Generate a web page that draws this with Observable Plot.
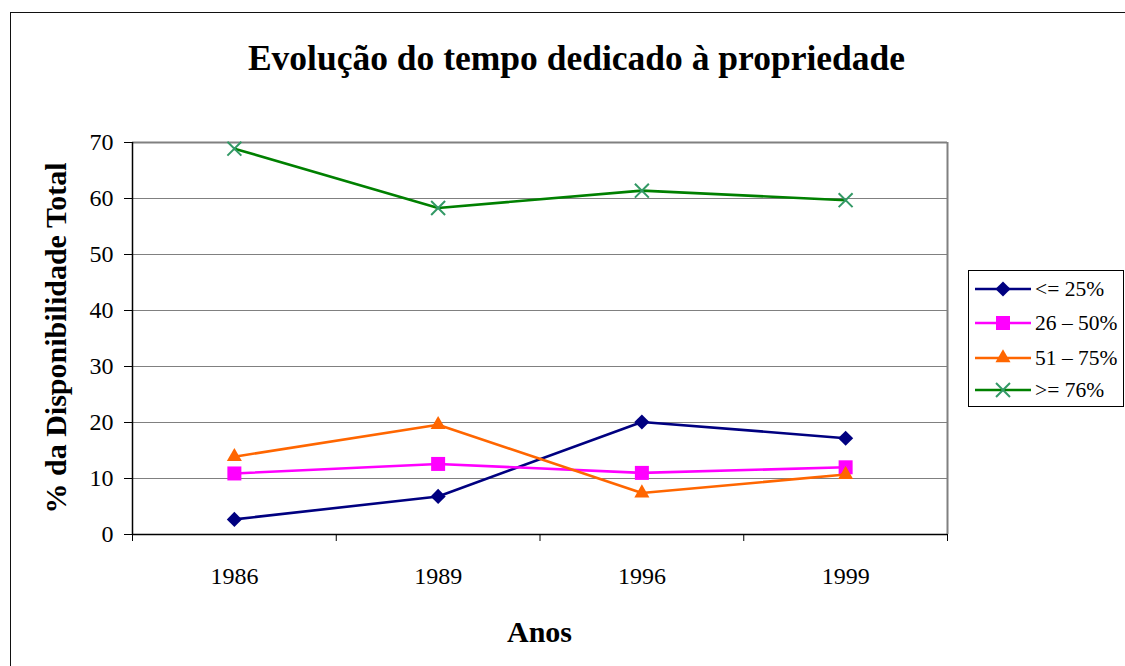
<!DOCTYPE html>
<html>
<head>
<meta charset="utf-8">
<script src="https://cdn.jsdelivr.net/npm/d3@7"></script>
<script src="https://cdn.jsdelivr.net/npm/@observablehq/plot@0.6"></script>
<style>
  html, body { margin: 0; padding: 0; background: #fff; overflow: hidden; }
  #wrap { position: relative; width: 1125px; height: 666px; overflow: hidden; font-family: "Liberation Serif", "Times New Roman", serif; color: #000; }
  #outer { position: absolute; left: 10px; top: 12px; width: 1300px; height: 900px; border: 1.5px solid #111; box-sizing: border-box; }
  #chart { position: absolute; left: 0; top: 0; }
  #title { position: absolute; left: 0; top: 40px; width: 1153px; text-align: center; font-weight: bold; font-size: 35.5px; line-height: 36px; white-space: nowrap; font-family: "Liberation Serif", "Times New Roman", serif; }
  #xlabel { position: absolute; left: 289.5px; top: 617px; width: 500px; text-align: center; font-weight: bold; font-size: 30px; line-height: 30px; font-family: "Liberation Serif", "Times New Roman", serif; }
  #ylabel { position: absolute; left: -194px; top: 323px; width: 500px; height: 30px; text-align: center; font-weight: bold; font-size: 30px; line-height: 30px; transform: rotate(-90deg); white-space: nowrap; font-family: "Liberation Serif", "Times New Roman", serif; }
  #legend { position: absolute; left: 968px; top: 270px; width: 156px; height: 137px; border: 1px solid #000; box-sizing: border-box; background: #fff; }
  .row { position: absolute; left: 0; height: 34px; width: 160px; }
  .row svg { position: absolute; left: 6px; top: 0; }
  .row span { position: absolute; left: 66px; top: 0; line-height: 34px; font-size: 21.5px; white-space: nowrap; font-family: "Liberation Serif", "Times New Roman", serif; color: #000; }
</style>
</head>
<body>
<div id="wrap">
  <div id="outer"></div>
  <div id="chart"></div>
  <div id="title">Evolução do tempo dedicado à propriedade</div>
  <div id="ylabel">% da Disponibilidade Total</div>
  <div id="xlabel">Anos</div>
  <div id="legend"></div>
</div>
<script>
// ---- data ----
const years = ["1986", "1989", "1996", "1999"];
const seriesNames = ["<= 25%", "26 – 50%", "51 – 75%", ">= 76%"];
const le25 = [2.7, 6.8, 20.1, 17.2];
const s26to50 = [10.9, 12.6, 11.0, 12.0];
const s51to75 = [13.9, 19.6, 7.4, 10.7];
const ge76 = [68.9, 58.3, 61.4, 59.7];
const yTicks = [0, 10, 20, 30, 40, 50, 60, 70];

// ---- styles ----
const lineColors = ["#000080", "#FF00FF", "#FF6600", "#008000"];
const markerColors = ["#000080", "#FF00FF", "#FF6600", "#339966"];
const symbols = ["diamond2", "square", "triangle", "times"];
const radii = [6.8, 7.9, 5.6, 6.4];
const filled = [true, true, true, false];

const allValues = [le25, s26to50, s51to75, ge76];
const series = seriesNames.map((name, k) =>
  allValues[k].map((v, i) => ({series: name, i, year: years[i], value: v}))
);

const boundaries = d3.range(years.length + 1).map(i => i - 0.5);
const centers = d3.range(years.length);
const serif = "'Liberation Serif', 'Times New Roman', serif";

const marks = [
  Plot.gridY({ticks: yTicks.filter(t => t > 0 && t < 70), stroke: "#808080", strokeOpacity: 1, strokeWidth: 1}),
  Plot.ruleY([70], {stroke: "#808080", strokeWidth: 2}),
  Plot.ruleX([years.length - 0.5], {stroke: "#808080", strokeWidth: 2}),
  Plot.axisY({ticks: yTicks, tickSize: 8, tickPadding: 11, label: null, tickFormat: d => String(d), fontSize: 24, fontFamily: serif}),
  Plot.axisX({ticks: boundaries, tickSize: 7, tickFormat: () => "", label: null}),
  Plot.axisX({ticks: centers, tickSize: 0, tickPadding: 32, tickFormat: d => years[d], label: null, fontSize: 24, fontFamily: serif}),
  Plot.ruleX([-0.5], {stroke: "#000", strokeWidth: 1.5}),
  Plot.ruleY([0], {stroke: "#000", strokeWidth: 1.5})
];

series.forEach((data, k) => {
  marks.push(Plot.line(data, {x: "i", y: "value", stroke: lineColors[k], strokeWidth: 2.6}));
  marks.push(Plot.dot(data, filled[k]
    ? {x: "i", y: "value", symbol: () => symbols[k], r: radii[k], fill: markerColors[k], stroke: "none"}
    : {x: "i", y: "value", symbol: () => symbols[k], r: radii[k], fill: "none", stroke: markerColors[k], strokeWidth: 2}));
});

const chart = Plot.plot({
  width: 1125,
  height: 666,
  marginLeft: 132,
  marginRight: 178,
  marginTop: 142,
  marginBottom: 132,
  x: {type: "linear", domain: [-0.5, years.length - 0.5]},
  y: {domain: [0, 70]},
  symbol: {type: "identity"},
  style: {fontFamily: serif, fontSize: "24px", color: "#000", background: "transparent", overflow: "visible"},
  marks
});
document.getElementById("chart").appendChild(chart);

// ---- legend ----
const symbolMap = {diamond2: d3.symbolDiamond2, square: d3.symbolSquare, triangle: d3.symbolTriangle, times: d3.symbolTimes};
const legend = d3.select("#legend");
const rowCenters = [18, 52, 87, 119];
seriesNames.forEach((name, k) => {
  const row = legend.append("div").attr("class", "row").style("top", (rowCenters[k] - 17) + "px");
  const svg = row.append("svg").attr("width", 58).attr("height", 34);
  svg.append("line").attr("x1", 0).attr("x2", 56).attr("y1", 17).attr("y2", 17)
    .attr("stroke", lineColors[k]).attr("stroke-width", 2.6);
  const size = Math.PI * radii[k] * radii[k];
  const p = svg.append("path").attr("transform", "translate(28,17)")
    .attr("d", d3.symbol(symbolMap[symbols[k]], size)());
  if (filled[k]) p.attr("fill", markerColors[k]);
  else p.attr("fill", "none").attr("stroke", markerColors[k]).attr("stroke-width", 2);
  row.append("span").text(name);
});
</script>
</body>
</html>
